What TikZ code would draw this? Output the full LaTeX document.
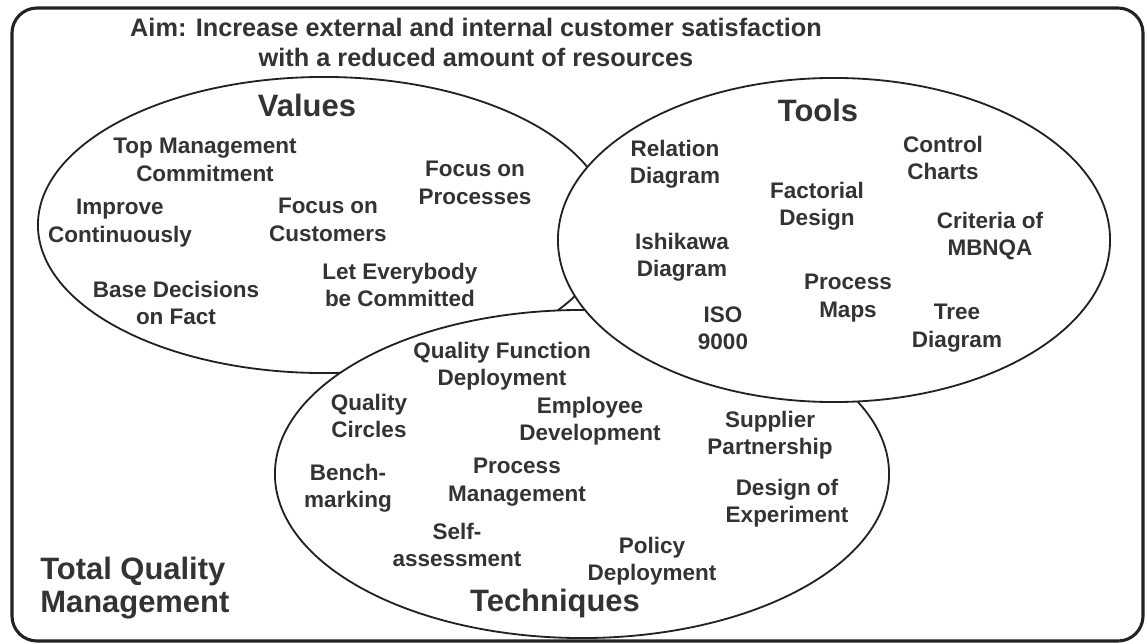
\documentclass[tikz,border=0pt]{standalone}
\usepackage{xcolor}
\usepackage{fontspec}
\setmainfont{Liberation Sans}
\definecolor{ink}{HTML}{333333}
\definecolor{rim}{HTML}{222222}

\begin{document}
\begin{tikzpicture}[x=0.025cm,y=-0.025cm,
  item/.style={align=center,font=\bfseries\fontsize{16}{19.5}\selectfont,text=ink,inner sep=0pt},
  heading/.style={align=center,font=\bfseries\fontsize{22}{23}\selectfont,text=ink,inner sep=0pt},
  ring/.style={draw=rim,line width=1.3pt,fill=white}]
\useasboundingbox (0,0) rectangle (1147,644);
\draw[draw=rim,line width=2.2pt,rounded corners=0.625cm] (12,8) rectangle (1143,641);

% Circles
\draw[ring] (324,225) ellipse [x radius=7.15cm, y radius=3.7cm]; % Values
\draw[ring] (582,474) ellipse [x radius=7.675cm, y radius=4.1cm]; % Techniques
\draw[ring] (834,240) ellipse [x radius=6.9cm, y radius=4.05cm]; % Tools

% Aim and titles
\node[item,font=\bfseries\fontsize{18}{21.3}\selectfont] (aim) at (476,42)
  {Aim: Increase external and internal customer satisfaction\\with a reduced amount of resources};
\node[heading] (values) at (307,105) {Values};
\node[heading] (tools) at (818,110) {Tools};
\node[heading] (techniques) at (555,603) {Techniques};
\node[heading,align=left,anchor=west] (tqm) at (40,588) {Total Quality\\Management};

% Values
\node[item] (topmgmt) at (205,160) {Top Management\\Commitment};
\node[item] (improve) at (120,223) {Improve\\Continuously};
\node[item] (customers) at (328,220) {Focus on\\Customers};
\node[item] (processes) at (475,183) {Focus on\\Processes};
\node[item] (facts) at (176,303) {Base Decisions\\on Fact};
\node[item] (everybody) at (400,285) {Let Everybody\\be Committed};

% Tools
\node[item] (relation) at (675,164) {Relation\\Diagram};
\node[item] (factorial) at (817,206) {Factorial\\Design};
\node[item] (control) at (943,158) {Control\\Charts};
\node[item] (mbnqa) at (990,236) {Criteria of\\MBNQA};
\node[item] (ishikawa) at (682,257) {Ishikawa\\Diagram};
\node[item] (maps) at (848,298) {Process\\Maps};
\node[item] (iso) at (723,328) {ISO\\9000};
\node[item] (tree) at (957,328) {Tree\\Diagram};

% Techniques
\node[item] (qfd) at (502,366) {Quality Function\\Deployment};
\node[item] (circles) at (369,416) {Quality\\Circles};
\node[item] (employee) at (590,421) {Employee\\Development};
\node[item] (supplier) at (770,435) {Supplier\\Partnership};
\node[item] (bench) at (348,488) {Bench-\\marking};
\node[item] (procmgmt) at (517,482) {Process\\Management};
\node[item] (doe) at (787,503) {Design of\\Experiment};
\node[item] (selfassess) at (457,545) {Self-\\assessment};
\node[item] (policy) at (652,561) {Policy\\Deployment};
\end{tikzpicture}
\end{document}
